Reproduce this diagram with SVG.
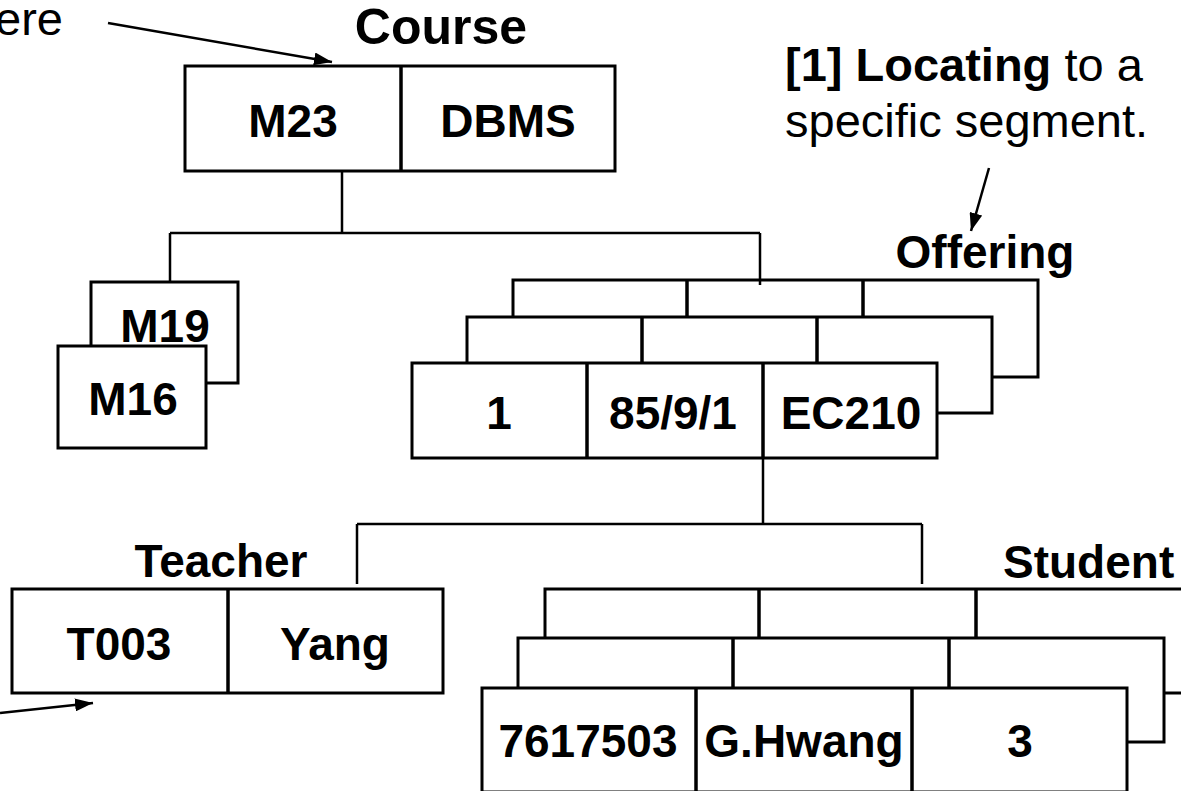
<svg xmlns="http://www.w3.org/2000/svg" width="1181" height="791" viewBox="0 0 1181 791">
  <defs>
    <marker id="arrowhead" viewBox="0 0 18 13" refX="18" refY="6.5" markerWidth="18" markerHeight="13" markerUnits="userSpaceOnUse" orient="auto">
      <path d="M0,0 L18,6.5 L0,13 Z" fill="#000"/>
    </marker>
  </defs>
  <style>
    .box { fill: #fff; stroke: #000; stroke-width: 3; }
    .div { stroke: #000; stroke-width: 3.5; }
    .link { fill: none; stroke: #000; stroke-width: 2.5; }
    .pointer { fill: none; stroke: #000; stroke-width: 2.5; marker-end: url(#arrowhead); }
    .val { font-family: "Liberation Sans", Arial, sans-serif; font-weight: bold; font-size: 46px; text-anchor: middle; fill: #000; }
    .lbl { font-family: "Liberation Sans", Arial, sans-serif; font-weight: bold; font-size: 46px; fill: #000; }
    .lbl.big { font-size: 50px; }
    .note { font-family: "Liberation Sans", Arial, sans-serif; font-size: 47px; fill: #000; }
  </style>

  <rect width="1181" height="791" fill="#fff"/>

  <!-- annotations -->
  <g id="annotations">
    <text class="note" x="63" y="35" text-anchor="end">ere</text>
    <text class="note" x="785" y="81"><tspan font-weight="bold">[1] Locating</tspan> to a</text>
    <text class="note" x="785" y="137">specific segment.</text>
  </g>

  <!-- Course root segment -->
  <g id="course">
    <text class="lbl big" x="441" y="44" text-anchor="middle">Course</text>
    <rect class="box" x="185" y="66" width="430" height="105"/>
    <line class="div" x1="401" y1="66" x2="401" y2="171"/>
    <text class="val" x="293" y="137">M23</text>
    <text class="val" x="508" y="137">DBMS</text>
  </g>

  <!-- sibling Course occurrences -->
  <g id="course-m19">
    <rect class="box" x="91" y="282" width="147" height="101"/>
    <text class="val" x="165" y="342">M19</text>
  </g>
  <g id="course-m16">
    <rect class="box" x="58" y="346" width="148" height="102"/>
    <text class="val" x="133" y="415">M16</text>
  </g>

  <!-- Offering segment occurrences, back to front -->
  <g id="offering">
    <text class="lbl" x="985" y="268" text-anchor="middle">Offering</text>
    <rect class="box" x="513" y="280" width="525" height="97"/>
    <line class="div" x1="687" y1="280" x2="687" y2="377"/>
    <line class="div" x1="863" y1="280" x2="863" y2="377"/>
    <rect class="box" x="467" y="317" width="525" height="96"/>
    <line class="div" x1="642" y1="317" x2="642" y2="413"/>
    <line class="div" x1="817" y1="317" x2="817" y2="413"/>
    <rect class="box" x="412" y="363" width="525" height="95"/>
    <line class="div" x1="587" y1="363" x2="587" y2="458"/>
    <line class="div" x1="763" y1="363" x2="763" y2="458"/>
    <text class="val" x="499" y="429">1</text>
    <text class="val" x="673" y="429">85/9/1</text>
    <text class="val" x="851" y="429">EC210</text>
  </g>

  <!-- Teacher segment -->
  <g id="teacher">
    <text class="lbl" x="221" y="577" text-anchor="middle">Teacher</text>
    <rect class="box" x="12" y="589" width="431" height="104"/>
    <line class="div" x1="228" y1="589" x2="228" y2="693"/>
    <text class="val" x="119" y="660">T003</text>
    <text class="val" x="335" y="660">Yang</text>
  </g>

  <!-- Student segment occurrences, back to front -->
  <g id="student">
    <text class="lbl" x="1003" y="578">Student</text>
    <rect class="box" x="545" y="589" width="646" height="104"/>
    <line class="div" x1="759" y1="589" x2="759" y2="693"/>
    <line class="div" x1="976" y1="589" x2="976" y2="693"/>
    <rect class="box" x="518" y="638" width="646" height="104"/>
    <line class="div" x1="733" y1="638" x2="733" y2="742"/>
    <line class="div" x1="949" y1="638" x2="949" y2="742"/>
    <rect class="box" x="482" y="688" width="645" height="104"/>
    <line class="div" x1="696" y1="688" x2="696" y2="792"/>
    <line class="div" x1="912" y1="688" x2="912" y2="792"/>
    <text class="val" x="588" y="757">7617503</text>
    <text class="val" x="804" y="757">G.Hwang</text>
    <text class="val" x="1020" y="757">3</text>
  </g>

  <!-- parent-child links and pointers -->
  <g id="connectors">
    <path class="link" d="M342,171 V233 M170,233 H760 M170,233 V282 M760,233 V285"/>
    <path class="link" d="M763,458 V524 M357,524 H922 M357,524 V584 M922,524 V584"/>
    <line class="pointer" x1="108" y1="23" x2="332" y2="62"/>
    <line class="pointer" x1="989" y1="168" x2="971" y2="231"/>
    <line class="pointer" x1="0" y1="713" x2="93" y2="703"/>
  </g>
</svg>
